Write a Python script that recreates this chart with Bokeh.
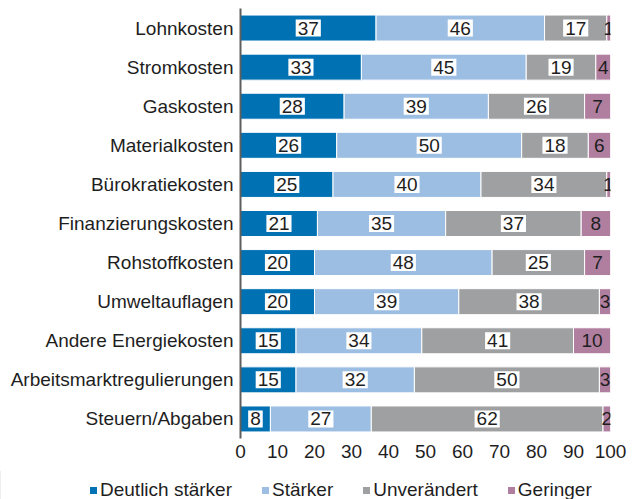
import numpy as np
from bokeh.plotting import figure
from bokeh.layouts import column
from bokeh.models import ColumnDataSource, FactorRange, Range1d, FixedTicker, Legend, LegendItem
from bokeh.core.properties import value
from bokeh.embed import file_html
from bokeh.resources import INLINE

categories = ["Lohnkosten", "Stromkosten", "Gaskosten", "Materialkosten", "Bürokratiekosten",
              "Finanzierungskosten", "Rohstoffkosten", "Umweltauflagen", "Andere Energiekosten",
              "Arbeitsmarktregulierungen", "Steuern/Abgaben"]
deutlich_staerker = [37, 33, 28, 26, 25, 21, 20, 20, 15, 15, 8]
staerker = [46, 45, 39, 50, 40, 35, 48, 39, 34, 32, 27]
unveraendert = [17, 19, 26, 18, 34, 37, 25, 38, 41, 50, 62]
geringer = [1, 4, 7, 6, 1, 8, 7, 3, 10, 3, 2]
series_names = ["Deutlich stärker", "Stärker", "Unverändert", "Geringer"]
x_ticks = [0, 10, 20, 30, 40, 50, 60, 70, 80, 90, 100]

colors = ["#0071B3", "#9DBEE3", "#9FA0A2", "#B07E9F"]
FONT = "Liberation Sans"
FS = "19px"
TXT = "#1e1e1e"

series = [deutlich_staerker, staerker, unveraendert, geringer]
vals = np.array(series, dtype=float)
totals = vals.sum(axis=0)
norm = vals / totals * 100.0
rights = np.cumsum(norm, axis=0)
lefts = rights - norm

p = figure(width=635, height=470, output_backend="svg", toolbar_location=None,
           y_range=FactorRange(*reversed(categories)), x_range=Range1d(0, 100),
           min_border_left=240, min_border_right=25, min_border_top=8, min_border_bottom=32)
p.outline_line_color = None
p.xgrid.visible = False
p.ygrid.visible = False
p.background_fill_color = "white"
p.border_fill_color = "white"

sources = []
for i, name in enumerate(series_names):
    src = ColumnDataSource(dict(y=categories, left=lefts[i], right=rights[i],
                                xc=(lefts[i] + rights[i]) / 2, lab=[str(v) for v in series[i]]))
    sources.append(src)
    p.hbar(y="y", left="left", right="right", height=0.665, source=src,
           fill_color=colors[i], line_color="white", line_width=1)
    kw = {}
    if i < 3:
        kw = dict(background_fill_color="white", padding=2)
    p.text(x="xc", y="y", text="lab", source=src, text_align="center", text_baseline="middle",
           text_font=value(FONT), text_font_size=FS, text_color=TXT, **kw)

# axes
p.xaxis.ticker = FixedTicker(ticks=x_ticks)
p.xaxis.axis_line_color = None
p.xaxis.major_tick_line_color = None
p.xaxis.minor_tick_line_color = None
p.xaxis.major_tick_out = 0
p.xaxis.major_tick_in = 0
p.xaxis.major_label_standoff = 6
p.xaxis.major_label_text_font = FONT
p.xaxis.major_label_text_font_size = FS
p.xaxis.major_label_text_color = TXT

p.yaxis.axis_line_color = "#5e5e5e"
p.yaxis.axis_line_width = 2
p.yaxis.major_tick_line_color = None
p.yaxis.major_tick_out = 0
p.yaxis.major_tick_in = 0
p.yaxis.major_label_standoff = 7
p.yaxis.major_label_text_font = FONT
p.yaxis.major_label_text_font_size = FS
p.yaxis.major_label_text_color = TXT

# legend in a separate strip below the chart (bars there are out of view; only legend shows)
lg = figure(width=635, height=29, output_backend="svg", toolbar_location=None,
            x_axis_type=None, y_axis_type=None, x_range=Range1d(200, 300),
            y_range=FactorRange(*reversed(categories)),
            min_border_left=0, min_border_right=0, min_border_top=0, min_border_bottom=0)
lg.frame_align = False
lg.outline_line_color = None
lg.xgrid.visible = False
lg.ygrid.visible = False
items = []
for i, name in enumerate(series_names):
    r = lg.hbar(y="y", left="left", right="right", height=0.665, source=sources[i],
                fill_color=colors[i], line_color="white", line_width=1)
    items.append(LegendItem(label=name, renderers=[r]))
legend = Legend(items=items, orientation="horizontal", location=(88, -2),
                glyph_width=10, glyph_height=10, label_standoff=2, spacing=28,
                padding=0, margin=0, border_line_color=None, background_fill_alpha=0,
                label_text_font=FONT, label_text_font_size=FS, label_text_color=TXT)
lg.add_layout(legend, "center")

layout = column(p, lg, spacing=0)
open("out.html", "w").write(file_html(layout, INLINE))
